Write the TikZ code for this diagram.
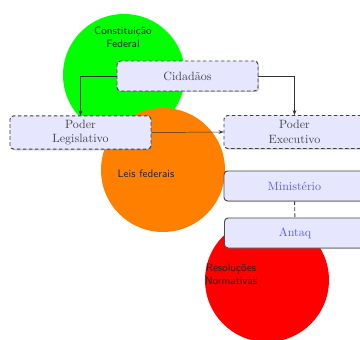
\documentclass[tikz,border=0pt]{standalone}
\usetikzlibrary{shadows,arrows.meta}
\definecolor{boxfill}{RGB}{230,230,255}
\definecolor{boxtext}{RGB}{70,70,70}
\definecolor{linkblue}{RGB}{90,90,255}
\definecolor{orng}{RGB}{255,128,0}
\begin{document}
\begin{tikzpicture}[x=0.8333pt,y=-0.8333pt,
  circ/.style={circle,inner sep=0pt},
  circtext/.style={font=\small\sffamily,align=center,text=black!85},
  dashbox/.style={draw=black!75,densely dashed,thick,rounded corners=3pt,fill=boxfill,
    text=boxtext,minimum width=117.5pt,align=center,
    drop shadow={shadow xshift=1pt,shadow yshift=-1pt,opacity=0.4}},
  solidbox/.style={draw=black!70,thick,rounded corners=3pt,fill=boxfill,
    text=linkblue,minimum width=117.5pt,minimum height=25pt,
    drop shadow={shadow xshift=1pt,shadow yshift=-1pt,opacity=0.4}},
  link/.style={draw=black!80,-{Stealth[length=4pt,width=3pt]}}]
\useasboundingbox (0,0) rectangle (360,340);
% regulatory sources as coloured discs
\fill[green] (124,75) circle[radius=61];
\fill[orng] (163,170) circle[radius=62];
\fill[red] (267,280) circle[radius=62];
\node[circtext] (cf) at (123,37) {Constituição\\Federal};
\node[circtext] (lf) at (146,174) {Leis federais};
\node[circtext] (rn) at (231,274) {Resoluções\\Normativas};
% actors
\node[dashbox,minimum height=25pt] (cid) at (187.5,76) {Cidadãos};
\node[dashbox,minimum height=27.5pt,text width=100pt] (leg) at (80.5,132.5) {Poder\\Legislativo};
\node[dashbox,minimum height=27.5pt,text width=100pt] (exe) at (294.5,132) {Poder\\Executivo};
\node[solidbox] (min) at (294.5,186) {Ministério};
\node[solidbox] (ant) at (295,233) {Antaq};
% connections
\draw[link] (cid.west) -| (leg.north);
\draw[link] (cid.east) -| (exe.north);
\draw[link] (leg.east) -- (exe.west);
\draw[black!75,densely dashed,thick] (min) -- (ant);
\end{tikzpicture}
\end{document}
